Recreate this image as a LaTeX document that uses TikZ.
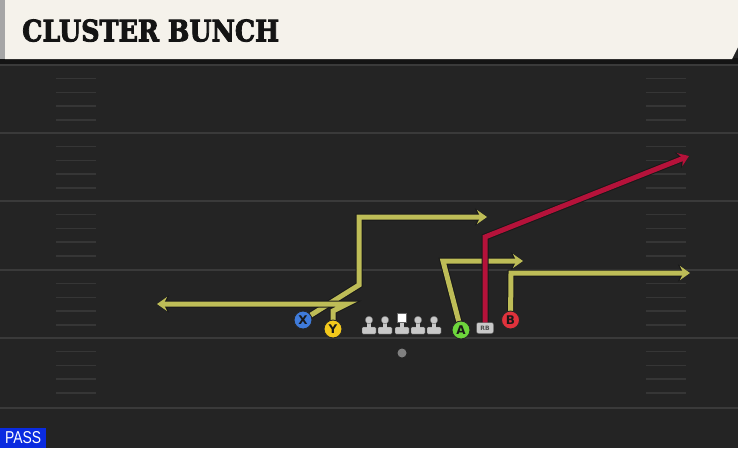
\documentclass[tikz,border=0pt]{standalone}
\usepackage{fontspec}
\usetikzlibrary{arrows.meta,backgrounds}
\newfontfamily\titlefont{DejaVu Serif}[UprightFont=* Bold, FakeBold=3]
\newfontfamily\labelfont{DejaVu Sans}
\newfontfamily\passfont{Liberation Sans}
\definecolor{fieldbg}{HTML}{242424}
\definecolor{yardline}{HTML}{3A3A3A}
\definecolor{hashc}{HTML}{363636}
\definecolor{bannerc}{HTML}{F5F2EB}
\definecolor{routey}{HTML}{BEBD57}
\definecolor{router}{HTML}{B5123A}
\definecolor{xblue}{HTML}{3F7BDA}
\definecolor{yyellow}{HTML}{F3C91C}
\definecolor{agreen}{HTML}{6DD63C}
\definecolor{bred}{HTML}{E0323C}
\definecolor{lmgray}{HTML}{C8C8C8}
\definecolor{passblue}{HTML}{0A2BE0}
\newcommand\playroute[2]{\draw[outl] #2; \draw[#1] #2;}
\tikzset{
  player/.style={circle, minimum size=18pt, inner sep=0pt, draw=black!85, line width=0.9pt,
    font=\labelfont\bfseries\fontsize{12}{12}\selectfont, text=black!90},
  yroute/.style={draw=routey, line width=5pt, line join=miter, -{Stealth[length=10pt,width=14pt,inset=3.5pt]}},
  rroute/.style={draw=router, line width=5pt, line join=miter, -{Stealth[length=10pt,width=14pt,inset=3.5pt]}},
  outl/.style={draw=black!90, line width=7pt, line join=miter, -{Stealth[length=12pt,width=17pt,inset=4pt]}},
  lineman/.pic={
    \fill[lmgray, draw=black!70, line width=0.4pt, rounded corners=1pt] (-7,7) rectangle (7,14);
    \fill[lmgray] (-2,2) rectangle (2,8);
    \fill[lmgray, draw=black!60, line width=0.4pt] (0,0) circle (3.8);
  },
  centerman/.pic={
    \fill[lmgray, draw=black!70, line width=0.4pt, rounded corners=1pt] (-7,7) rectangle (7,14);
    \fill[lmgray] (-2,2) rectangle (2,8);
    \fill[white, draw=black!60, line width=0.4pt] (-4.5,-6.5) rectangle (4.5,2.5);
  }
}
\begin{document}
\begin{tikzpicture}[x=1pt,y=-1pt]
\useasboundingbox (0,0) rectangle (738,448);
\begin{scope}[on background layer]
  \fill[fieldbg] (0,0) rectangle (738,448);
  \foreach \yy in {65,133,201,270,338,408}
    \draw[yardline, line width=2pt] (0,\yy) -- (738,\yy);
  \foreach \yy in {65,133,201,270,338}
    \foreach \k in {1,2,3,4} {
      \draw[hashc, line width=1.5pt] (56,\yy+13.7*\k) -- (96,\yy+13.7*\k);
      \draw[hashc, line width=1.5pt] (646,\yy+13.7*\k) -- (686,\yy+13.7*\k);
    }
\end{scope}
% banner
\fill[black!92] (0,58) rectangle (738,64);
\fill[bannerc] (5,0) -- (738,0) -- (738,47) -- (732,59) -- (5,59) -- cycle;
\fill[black!35] (0,0) rectangle (5,59);
\node[anchor=south west, inner sep=0pt, text=black!92] (title) at (22,42)
  {\resizebox{257pt}{22pt}{\titlefont CLUSTER BUNCH}};
% pass label
\node[anchor=south west, fill=passblue, minimum width=46pt, minimum height=20pt, inner sep=0pt, text=white] (pass) at (0,448)
  {\resizebox{36pt}{12pt}{\passfont PASS}};
% players
\node[player, fill=xblue] (X) at (303,320) {X};
\node[player, fill=yyellow] (Y) at (333,329) {Y};
\node[player, fill=agreen] (A) at (461,330) {A};
\node[player, fill=bred] (B) at (510.5,320) {B};
\node[fill=lmgray, draw=black!70, line width=0.4pt, rounded corners=2pt, minimum width=17pt, minimum height=11pt, inner sep=0pt,
  font=\labelfont\bfseries\fontsize{6}{6}\selectfont, text=black!70] (RB) at (485,328) {RB};
\node[circle, fill=black!50, minimum size=9pt, inner sep=0pt] (QB) at (402,353) {};
\pic (LT) at (369,320) {lineman};
\pic (LG) at (385,320) {lineman};
\pic (C) at (402,320) {centerman};
\pic (RG) at (418,320) {lineman};
\pic (RT) at (434,320) {lineman};
% routes
\coordinate (xc1) at (359,285);
\coordinate (xc2) at (359,217);
\coordinate (xend) at (487,217);
\coordinate (yc1) at (333,311);
\coordinate (yc2) at (347,304);
\coordinate (yend) at (157,304);
\coordinate (ac1) at (443,261);
\coordinate (aend) at (523,261);
\coordinate (bc1) at (511,273);
\coordinate (bend) at (690,273);
\coordinate (rc1) at (485,237);
\coordinate (rend) at (689,156);
\begin{scope}[on background layer]
  \playroute{yroute}{(X.center) -- (xc1) -- (xc2) -- (xend)}
  \playroute{yroute}{(Y.center) -- (yc1) -- (yc2) -- (yend)}
  \playroute{yroute}{(A.center) -- (ac1) -- (aend)}
  \playroute{yroute}{(B.center) -- (bc1) -- (bend)}
  \playroute{rroute}{(RB.center) -- (rc1) -- (rend)}
\end{scope}
\end{tikzpicture}
\end{document}
